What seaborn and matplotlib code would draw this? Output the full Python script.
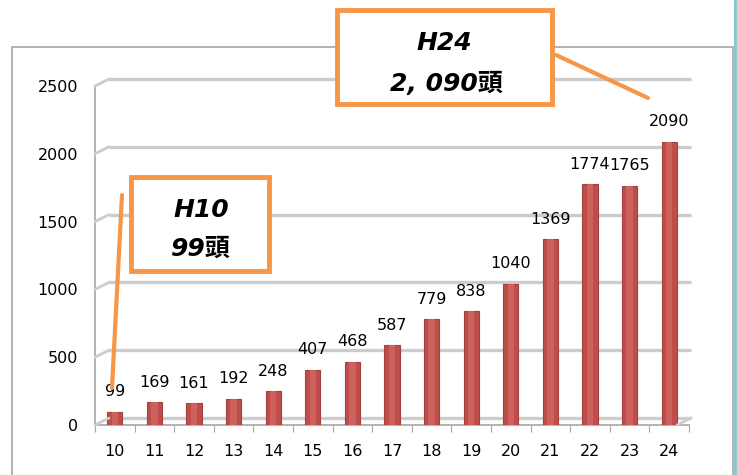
import matplotlib
matplotlib.use("Agg")
import matplotlib.pyplot as plt
import matplotlib.transforms as mtransforms
from matplotlib.patches import Rectangle
import seaborn as sns
import pandas as pd
import numpy as np

# -------------------------------
# Data
# -------------------------------
years = ["10", "11", "12", "13", "14", "15", "16", "17", "18", "19", "20", "21", "22", "23", "24"]
heads = [99, 169, 161, 192, 248, 407, 468, 587, 779, 838, 1040, 1369, 1774, 1765, 2090]
y_ticks = [0, 500, 1000, 1500, 2000, 2500]

df = pd.DataFrame({"year": years, "heads": heads})

sns.set_theme(style="white")
plt.rcParams["font.family"] = ["Liberation Sans Narrow", "DejaVu Sans"]
plt.rcParams["text.color"] = "#000000"

fig = plt.figure(figsize=(7.37, 4.75), dpi=100)
ax = fig.add_axes([95 / 737, 50 / 475, 594 / 737, 339 / 475])

# -------------------------------
# Outer frame
# -------------------------------
fig.patches.append(Rectangle((12 / 737, -0.1), 721 / 737, 1.1 - 47 / 475,
                             transform=fig.transFigure, fill=False,
                             edgecolor="#a6a6a6", linewidth=1.2, zorder=0))
fig.lines.append(plt.Line2D([735 / 737, 735 / 737], [0, 1], transform=fig.transFigure,
                            color="#7fc6d0", linewidth=2))

# -------------------------------
# Bars
# -------------------------------
sns.barplot(data=df, x="year", y="heads", color="#bf4e4b", width=0.38,
            edgecolor="#a33f3c", linewidth=0.8, saturation=1, ax=ax, zorder=3)
# cylinder highlight
sns.barplot(data=df, x="year", y="heads", color="#cd615e", width=0.16,
            linewidth=0, saturation=1, ax=ax, zorder=4)

for i, v in enumerate(heads):
    ax.annotate(str(v), (i, v), xytext=(0, 9), textcoords="offset points",
                ha="center", va="bottom", fontsize=11.5, color="#000000")

ax.set_xlim(-0.5, 14.5)
ax.set_ylim(0, 2500)
ax.set_yticks(y_ticks)
ax.set_xticks(np.arange(-0.5, 15, 1), minor=True)
ax.set_xlabel("")
ax.set_ylabel("")
ax.tick_params(axis="both", labelsize=11.5, length=4, width=0.8,
               colors="#a6a6a6", labelcolor="#000000")
ax.tick_params(axis="x", which="major", length=0, pad=14)
ax.tick_params(axis="x", which="minor", length=5, width=0.8, color="#a6a6a6", bottom=True)
ax.tick_params(axis="y", pad=8)
for s in ["top", "right"]:
    ax.spines[s].set_visible(False)
for s in ["left", "bottom"]:
    ax.spines[s].set_color("#a6a6a6")
    ax.spines[s].set_linewidth(1.2)
ax.patch.set_alpha(0)

# -------------------------------
# Gridlines with slight depth offset (3D look)
# -------------------------------
shift = mtransforms.ScaledTranslation(14 / 100, 7 / 100, fig.dpi_scale_trans)
for t in y_ticks:
    ax.plot([-0.5, 14.2], [t, t], color="#cccccc", linewidth=2.4,
            transform=ax.transData + shift, clip_on=False, zorder=0,
            solid_capstyle="butt")
    x0, y0 = ax.transData.transform((-0.5, t))
    fig.lines.append(plt.Line2D([x0 / 737, (x0 + 14) / 737], [y0 / 475, (y0 + 7) / 475],
                                transform=fig.transFigure, color="#cccccc", linewidth=2))
x1, y1 = ax.transData.transform((14.2, 0))
fig.lines.append(plt.Line2D([x1 / 737, (x1 + 14) / 737], [y1 / 475, (y1 + 7) / 475],
                            transform=fig.transFigure, color="#cccccc", linewidth=2))

# -------------------------------
# Callout boxes
# -------------------------------
jp = ["DejaVu Sans", "Noto Sans CJK JP"]
orange = "#f79646"

fig.patches.append(Rectangle((337 / 737, 1 - 104 / 475), 215 / 737, 94 / 475,
                             transform=fig.transFigure, facecolor="white",
                             edgecolor=orange, linewidth=3.5, zorder=5))
fig.text(444 / 737, 1 - 43 / 475, "H24", ha="center", va="center", fontsize=18,
         fontweight="bold", fontstyle="italic", family=jp, color="black", zorder=6)
fig.text(446 / 737, 1 - 84 / 475, "2, 090頭", ha="center", va="center", fontsize=18,
         fontweight="bold", fontstyle="italic", family=jp, color="black", zorder=6)
fig.lines.append(plt.Line2D([556 / 737, 648 / 737], [1 - 55 / 475, 1 - 98 / 475],
                            transform=fig.transFigure, color=orange, linewidth=3, zorder=5))

fig.patches.append(Rectangle((131 / 737, 1 - 271 / 475), 138 / 737, 94 / 475,
                             transform=fig.transFigure, facecolor="white",
                             edgecolor=orange, linewidth=3.5, zorder=5))
fig.text(201 / 737, 1 - 210 / 475, "H10", ha="center", va="center", fontsize=18,
         fontweight="bold", fontstyle="italic", family=jp, color="black", zorder=6)
fig.text(201 / 737, 1 - 249 / 475, "99頭", ha="center", va="center", fontsize=18,
         fontweight="bold", fontstyle="italic", family=jp, color="black", zorder=6)
fig.lines.append(plt.Line2D([122 / 737, 112 / 737], [1 - 195 / 475, 1 - 388 / 475],
                            transform=fig.transFigure, color=orange, linewidth=3, zorder=5))

fig.savefig("out.png", dpi=100)
